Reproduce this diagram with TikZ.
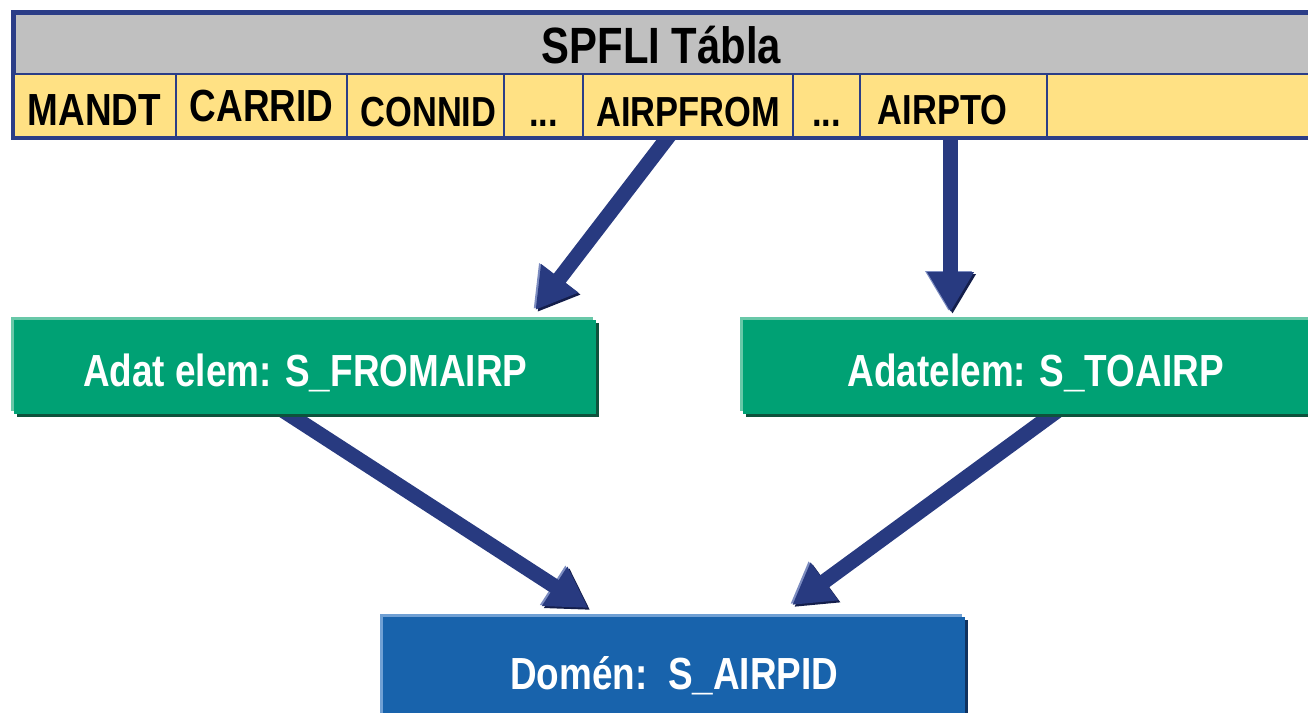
\documentclass[tikz,border=0pt]{standalone}
\usepackage{fontspec}
\setmainfont{Liberation Sans}[FakeStretch=0.82]
\usepackage{tikz}
\usetikzlibrary{positioning}
\usetikzlibrary{arrows.meta, calc, fit, backgrounds}
\definecolor{tableblue}{RGB}{43,61,135}
\definecolor{headgrey}{RGB}{192,192,192}
\definecolor{fieldyellow}{RGB}{255,225,132}
\definecolor{boxgreen}{RGB}{0,161,116}
\definecolor{boxgreenlight}{RGB}{104,200,168}
\definecolor{boxgreendark}{RGB}{14,82,60}
\definecolor{boxblue}{RGB}{24,99,172}
\definecolor{boxbluelight}{RGB}{112,160,212}
\definecolor{boxbluedark}{RGB}{16,50,95}
\definecolor{arrowblue}{RGB}{40,58,128}
\definecolor{arrowlight}{RGB}{124,140,192}
\definecolor{arrowdark}{RGB}{20,30,75}

\tikzset{
    field/.style={draw=tableblue, line width=2pt, fill=fieldyellow, anchor=north west,
        minimum height=64pt, inner sep=0pt, outer sep=0pt, text height=40pt, text depth=0pt,
        font=\fontsize{42}{48}\selectfont\bfseries},
    bigfield/.style={field, text height=38pt, font=\fontsize{45}{52}\selectfont\bfseries},
    greenbox/.style={fill=boxgreen, anchor=north west, minimum height=94pt, inner sep=0pt,
        text=white, text height=38pt, text depth=0pt, font=\fontsize{45}{52}\selectfont\bfseries,
        preaction={fill=boxgreendark, transform canvas={shift={(3,3)}}},
        preaction={fill=boxgreenlight, transform canvas={shift={(-3,-3)}}}},
    bluebox/.style={fill=boxblue, anchor=north west, minimum height=113pt, inner sep=0pt,
        text=white, text height=31pt, text depth=0pt, font=\fontsize{45}{52}\selectfont\bfseries,
        preaction={fill=boxbluedark, transform canvas={shift={(3,3)}}},
        preaction={fill=boxbluelight, transform canvas={shift={(-3,-3)}}}},
    blockarrow/.style={-{Triangle[length=40pt, width=44pt]}, line width=15pt, draw=arrowblue,
        preaction={draw=arrowdark, transform canvas={shift={(2,2)}}},
        preaction={draw=arrowlight, transform canvas={shift={(-2,-1)}}}}
}

\begin{document}
\begin{tikzpicture}[x=1pt, y=-1pt]
    \useasboundingbox (0,0) rectangle (1308,712);
    \clip (0,0) rectangle (1308,712);

    % Vẽ tiêu đề bảng SPFLI
    \node[draw=tableblue, line width=3pt, fill=headgrey, anchor=north west, minimum width=1314pt,
        minimum height=62pt, inner sep=0pt, text height=38pt, text depth=0pt,
        font=\fontsize{51}{58}\selectfont\bfseries] (header) at (13,12) {SPFLI Tábla\rule{20pt}{0pt}};

    % Các ô trường của bảng
    \node[bigfield, minimum width=163pt] (mandt) at (13,74) {MANDT};
    \node[bigfield, text height=30pt, minimum width=171pt] (carrid) at (176,74) {CARRID};
    \node[field, minimum width=157pt] (connid) at (347,74) {\rule{6pt}{0pt}CONNID};
    \node[field, minimum width=79pt] (dots1) at (504,74) {...};
    \node[field, minimum width=210pt] (airpfrom) at (583,74) {AIRPFROM};
    \node[field, minimum width=67pt] (dots2) at (793,74) {...};
    \node[field, text height=36pt, minimum width=187pt] (airpto) at (860,74) {AIRPTO\rule{22pt}{0pt}};
    \node[field, minimum width=280pt] (rest) at (1047,74) {};

    % Khung ngoài của bảng
    \node[draw=tableblue, line width=4pt, inner sep=0pt, fit=(header)(mandt)(rest)] (frame) {};

    % Hai adatelem màu xanh lá
    \node[greenbox, minimum width=582pt] (fromairp) at (14,320) {Adat elem: S\_FROMAIRP};
    \node[greenbox, minimum width=585pt] (toairp) at (743,320) {Adatelem: S\_TOAIRP};

    % Domén màu xanh dương
    \node[bluebox, minimum width=582pt] (domain) at (383,617) {Domén:\ \ S\_AIRPID};

    % Mũi tên nằm phía sau các ô
    \begin{scope}[on background layer]
        \draw[blockarrow] ($(airpfrom.south)+(-13,-10)$) -- ($(fromairp.north east)+(-61,-10)$);
        \draw[blockarrow] ($(airpto.south)+(-3,-10)$) -- ($(airpto.south |- toairp.north)+(-3,-8)$);
        \draw[blockarrow] ($(fromairp.south)+(-30,-9)$) -- ($(domain.north)+(-86,-9)$);
        \draw[blockarrow] ($(toairp.south)+(29,-9)$) -- ($(domain.north)+(118,-12)$);
    \end{scope}
\end{tikzpicture}
\end{document}
